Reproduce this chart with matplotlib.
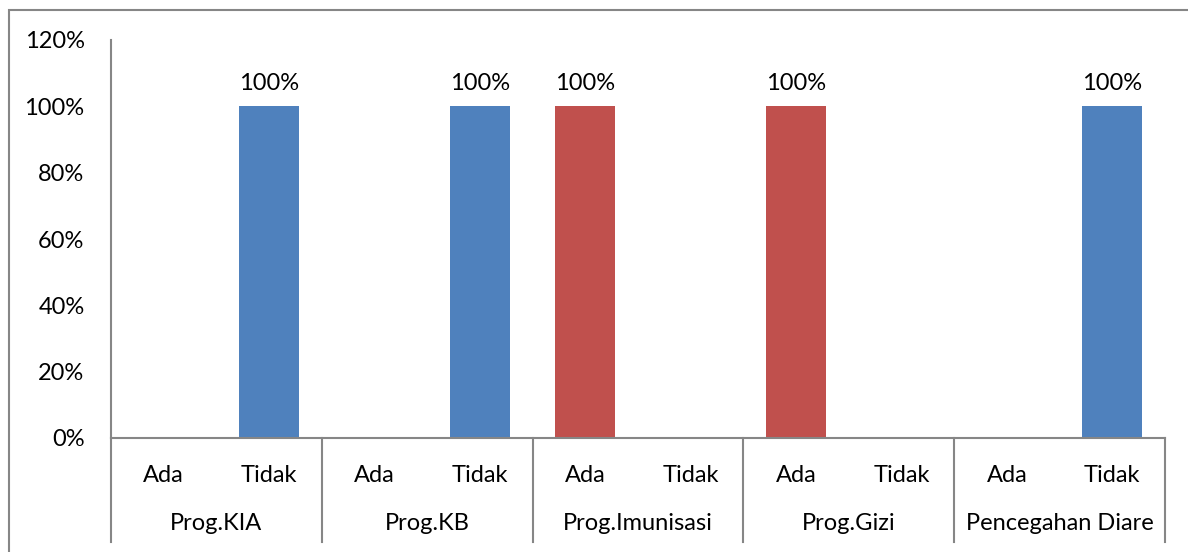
import matplotlib.pyplot as plt
from matplotlib.patches import Rectangle

plt.rcParams['font.family'] = ['Lato', 'DejaVu Sans']

groups = ['Prog.KIA', 'Prog.KB', 'Prog.Imunisasi', 'Prog.Gizi', 'Pencegahan Diare']
answers = ['Ada', 'Tidak']
# percent values, per group: [Ada, Tidak]
values = [
    [0, 100],
    [0, 100],
    [100, 0],
    [100, 0],
    [0, 100],
]
barColors = {'Ada': '#C0504D', 'Tidak': '#4F81BD'}
gray = '#868686'
fs = 17

fig = plt.figure(figsize=(11.88, 5.52), dpi=100)
ax = fig.add_axes([111 / 1188, 1 - 438 / 552, (1165 - 111) / 1188, (438 - 40) / 552])

# border around the chart area
fig.patches.append(Rectangle((9 / 1188, -0.1), 1.2, 1 - 10 / 552 + 0.1,
                             transform=fig.transFigure, fill=False,
                             edgecolor=gray, linewidth=1.5))

x = 0
for g, vals in zip(groups, values):
    for a, v in zip(answers, vals):
        if v > 0:
            ax.bar(x, v, width=0.57, color=barColors[a])
            ax.text(x, v + 3.6, '%d%%' % v, ha='center', va='bottom', fontsize=fs)
        x += 1

n = len(groups) * len(answers)
ax.set_xlim(-0.5, n - 0.5)
ax.set_ylim(0, 120)
ax.set_yticks(range(0, 121, 20))
ax.set_yticklabels(['%d%%' % t for t in range(0, 121, 20)], fontsize=fs)
ax.tick_params(axis='y', length=0, pad=19)
ax.set_xticks([])

for s in ['top', 'right']:
    ax.spines[s].set_visible(False)
for s in ['left', 'bottom']:
    ax.spines[s].set_color(gray)
    ax.spines[s].set_linewidth(1.5)

trans = ax.get_xaxis_transform()
i = 0
for g in groups:
    for a in answers:
        ax.text(i, -0.093, a, transform=trans, ha='center', va='center', fontsize=fs)
        i += 1
    ax.text(i - 1.5, -0.216, g, transform=trans, ha='center', va='center', fontsize=fs)

for k in range(len(groups) + 1):
    ax.plot([k * 2 - 0.5, k * 2 - 0.5], [0, -0.261], transform=trans, color=gray,
            linewidth=1.5, clip_on=False)

fig.savefig('out.png', dpi=100)
